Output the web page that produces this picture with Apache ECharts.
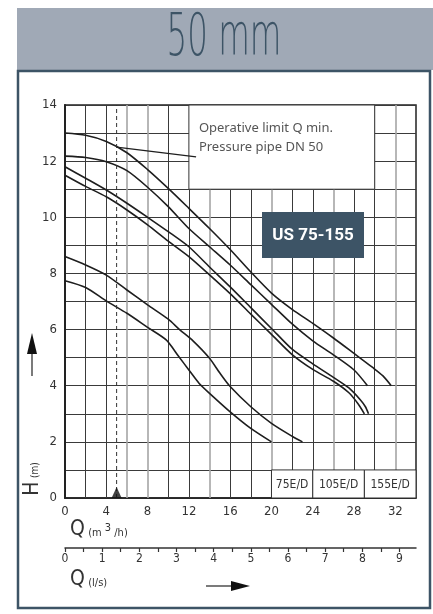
<!DOCTYPE html>
<html><head><meta charset="utf-8">
<script src="https://cdn.jsdelivr.net/npm/echarts@6/dist/echarts.min.js"></script>
<style>html,body{margin:0;padding:0;background:#fff}#c{width:433px;height:614px}</style>
</head><body><div id="c"></div>
<script>
// ---------- data ----------
const titleText = '50 mm';
const modelName = 'US 75-155';
const noteLines = ['Operative limit Q min.', 'Pressure pipe DN 50'];
const qTicks = [0, 4, 8, 12, 16, 20, 24, 28, 32];          // m3/h labels
const qGrid = [2, 4, 6, 8, 10, 12, 14, 16, 18, 20, 22, 24, 26, 28, 30, 32];
const qGridLight = [6, 8, 14, 20, 26, 32];
const hTicks = [0, 2, 4, 6, 8, 10, 12, 14];
const lsTicks = [0, 1, 2, 3, 4, 5, 6, 7, 8, 9];              // l/s labels
const lsTickMarks = [0, 0.5, 1, 1.5, 2, 2.5, 3, 3.5, 4, 4.5, 5, 5.5, 6, 6.5, 7, 7.5, 8, 8.5, 9];
const modelLabels = ['75E/D', '105E/D', '155E/D'];
const modelRanges = [[20, 24], [24, 29], [29, 34]];
const qMinLimit = 5;
const leader = [[5, 12.5], [12.7, 12.15]];
const noteBox = [[12, 14], [30, 11]];

const curveA = [[0,13.0],[2,12.92],[4,12.7],[6,12.3],[8,11.7],[10,11.03],[12,10.32],[14,9.6],[16,8.85],[18,8.05],[20,7.3],[22,6.72],[24,6.22],[26,5.7],[28,5.15],[29.8,4.65],[30.8,4.35],[31.6,4.0]];
const curveB = [[0,12.18],[2,12.13],[4,11.98],[6,11.66],[8,11.07],[10,10.38],[12,9.6],[14,8.95],[16,8.3],[18,7.6],[20,6.9],[22,6.2],[24,5.6],[26,5.1],[28,4.56],[29.3,4.0]];
const curveC = [[0,11.8],[2,11.39],[4,10.97],[6,10.5],[8,10.0],[10,9.49],[12,8.95],[14,8.23],[16,7.52],[18,6.78],[20,6.04],[22,5.3],[24,4.78],[26,4.3],[27.5,3.92],[28.6,3.5],[29.1,3.25],[29.4,3.0]];
const curveD = [[0,11.5],[2,11.1],[4,10.73],[6,10.26],[8,9.73],[10,9.15],[12,8.6],[14,7.95],[16,7.28],[18,6.55],[20,5.83],[22,5.11],[24,4.58],[26,4.16],[27.5,3.75],[28.4,3.35],[29.0,3.0]];
const curveE = [[0,8.6],[2,8.3],[4,7.94],[6,7.41],[8,6.88],[10,6.37],[11.1,6.0],[12.4,5.6],[14,4.98],[15,4.45],[16,3.97],[18,3.25],[20,2.66],[22,2.2],[23,2.0]];
const curveF = [[0,7.74],[2,7.5],[4,7.02],[6,6.58],[8,6.08],[9.8,5.63],[11,5.05],[12,4.56],[13,4.08],[14,3.73],[16,3.07],[18,2.48],[20,2.0]];
const curves = [curveA, curveB, curveC, curveD, curveE, curveF];

// ---------- chart ----------
const DARK = '#3d5466';
const INK = '#1e1e1e';
const GRIDC = '#3a3a3a';
const COND = "'DejaVu Sans Condensed', 'Liberation Sans Narrow', 'DejaVu Sans', sans-serif";
const Q_MAX = 34, H_MAX = 14;

const chart = echarts.init(document.getElementById('c'), null, {renderer: 'canvas'});

const curveSeries = curves.map((d, i) => ({
  name: 'c' + i, type: 'line', data: d, showSymbol: false, smooth: 0.25,
  z: 10, silent: true, lineStyle: {color: INK, width: 1.6}
}));

chart.setOption({
  animation: false,
  grid: {left: 65, top: 105, right: 17, bottom: 116, show: true, borderColor: '#222', borderWidth: 1.5},
  xAxis: [{
    type: 'value', min: 0, max: Q_MAX, interval: 2,
    axisLine: {show: true, onZero: false, lineStyle: {color: '#222', width: 1.5}},
    axisTick: {show: false}, splitLine: {show: false},
    axisLabel: {customValues: qTicks, margin: 7, fontSize: 13, color: '#333', fontFamily: COND}
  }, {
    type: 'value', min: 0, max: Q_MAX / 3.6, position: 'bottom', offset: 50,
    axisLine: {show: true, onZero: false, lineStyle: {color: '#333', width: 1.5}},
    axisTick: {show: true, customValues: lsTickMarks, length: 4, lineStyle: {color: '#333', width: 1.2}},
    splitLine: {show: false},
    axisLabel: {customValues: lsTicks, margin: 5, fontSize: 12, color: '#333', fontFamily: COND}
  }],
  yAxis: {
    type: 'value', min: 0, max: H_MAX, interval: 1,
    axisLine: {show: true, lineStyle: {color: '#222', width: 2}},
    axisTick: {show: false},
    splitLine: {show: true, lineStyle: {color: GRIDC, width: 1}},
    axisLabel: {customValues: hTicks, margin: 8, fontSize: 13, color: '#333', fontFamily: COND}
  },
  series: [{
    type: 'line', data: [], z: 1, silent: true,
    markLine: {
      silent: true, symbol: 'none', label: {show: false}, animation: false,
      data: qGrid.map(q => ({xAxis: q, lineStyle: qGridLight.includes(q)
        ? {color: '#a5a5a5', width: 1.6, type: 'solid'} : {color: GRIDC, width: 1, type: 'solid'}}))
    }
  }].concat(curveSeries).concat([{
    type: 'line', data: [[qMinLimit, 0], [qMinLimit, H_MAX]], showSymbol: false, z: 12, silent: true,
    lineStyle: {color: '#333', width: 1, type: [4, 3]}
  }, {
    type: 'line', data: leader, showSymbol: false, z: 12, silent: true,
    lineStyle: {color: INK, width: 1.2}
  }, {
    type: 'scatter', data: [[qMinLimit, 0]], symbol: 'triangle', symbolSize: [10, 11], symbolOffset: [0, -5.5],
    z: 13, silent: true, itemStyle: {color: '#111'}
  }])
});

const P = (q, h) => chart.convertToPixel({xAxisIndex: 0, yAxisIndex: 0}, [q, h]);
const g = [];
// header
g.push({type: 'rect', shape: {x: 17, y: 8, width: 416, height: 62}, style: {fill: '#a0a9b6'}, z: 1});
g.push({type: 'text', x: 224, y: 40, scaleX: 0.56, originX: 0, originY: 0,
  style: {text: titleText, fill: DARK, font: "200 58px 'DejaVu Sans'", align: 'center', verticalAlign: 'middle'}, z: 2});
g.push({type: 'rect', shape: {x: 18, y: 71, width: 412, height: 537}, style: {fill: 'none', stroke: DARK, lineWidth: 2.5}, z: 2});
// note box
const nb0 = P(noteBox[0][0], noteBox[0][1]), nb1 = P(noteBox[1][0], noteBox[1][1]);
g.push({type: 'rect', shape: {x: nb0[0], y: nb0[1], width: nb1[0] - nb0[0], height: nb1[1] - nb0[1]},
  style: {fill: '#fff', stroke: '#333', lineWidth: 1}, z: 5});
g.push({type: 'text', x: nb0[0] + 10, y: nb0[1] + 23, z: 6,
  style: {text: noteLines[0], fill: '#555', font: "13px 'Noto Sans'", verticalAlign: 'middle'}});
g.push({type: 'text', x: nb0[0] + 10, y: nb0[1] + 42, z: 6,
  style: {text: noteLines[1], fill: '#555', font: "13px 'Noto Sans'", verticalAlign: 'middle'}});
// model badge
g.push({type: 'rect', shape: {x: 262, y: 212, width: 102, height: 46}, style: {fill: DARK}, z: 6});
g.push({type: 'text', x: 313, y: 236, z: 7,
  style: {text: modelName, fill: '#fff', font: "bold 17px Roboto", align: 'center', verticalAlign: 'middle'}});
// model label boxes
modelRanges.forEach((r, i) => {
  const a = P(r[0], 1), b = P(r[1], 0);
  g.push({type: 'rect', shape: {x: a[0], y: a[1], width: b[0] - a[0], height: b[1] - a[1]},
    style: {fill: '#fff', stroke: '#333', lineWidth: 1}, z: 5});
  g.push({type: 'text', x: (a[0] + b[0]) / 2, y: (a[1] + b[1]) / 2 + 1, z: 6,
    style: {text: modelLabels[i], fill: '#333', font: "12px " + COND, align: 'center', verticalAlign: 'middle'}});
});
// axis titles
g.push({type: 'text', x: 70, y: 530, z: 6,
  style: {text: '{q|Q} {u|(m }{s|3}{u| /h)}', verticalAlign: 'middle',
    rich: {q: {font: "200 21px 'DejaVu Sans Condensed'", fill: '#333'},
           u: {font: "11px " + COND, fill: '#333', padding: [6, 0, 0, 0]},
           s: {font: "11px " + COND, fill: '#333', padding: [0, 0, 3, 0]}}}});
g.push({type: 'text', x: 70, y: 580, z: 6,
  style: {text: '{q|Q} {u|(l/s)}', verticalAlign: 'middle',
    rich: {q: {font: "200 21px 'DejaVu Sans Condensed'", fill: '#333'},
           u: {font: "11px " + COND, fill: '#333', padding: [6, 0, 0, 0]}}}});
g.push({type: 'text', x: 33, y: 479, rotation: Math.PI / 2, originX: 0, originY: 0, z: 6,
  style: {text: '{h|H} {u|(m)}', align: 'center', verticalAlign: 'middle',
    rich: {h: {font: "200 21px 'DejaVu Sans Condensed'", fill: '#333'},
           u: {font: "10px " + COND, fill: '#333', padding: [4, 0, 0, 0]}}}});
// arrows
g.push({type: 'line', shape: {x1: 32, y1: 376, x2: 32, y2: 350}, style: {stroke: '#222', lineWidth: 1.2}, z: 6});
g.push({type: 'polygon', shape: {points: [[27, 354], [37, 354], [32, 333]]}, style: {fill: '#111'}, z: 6});
g.push({type: 'line', shape: {x1: 206, y1: 586, x2: 234, y2: 586}, style: {stroke: '#222', lineWidth: 1.2}, z: 6});
g.push({type: 'polygon', shape: {points: [[231, 581], [231, 591], [250, 586]]}, style: {fill: '#111'}, z: 6});

chart.setOption({graphic: {elements: g}});
</script></body></html>
